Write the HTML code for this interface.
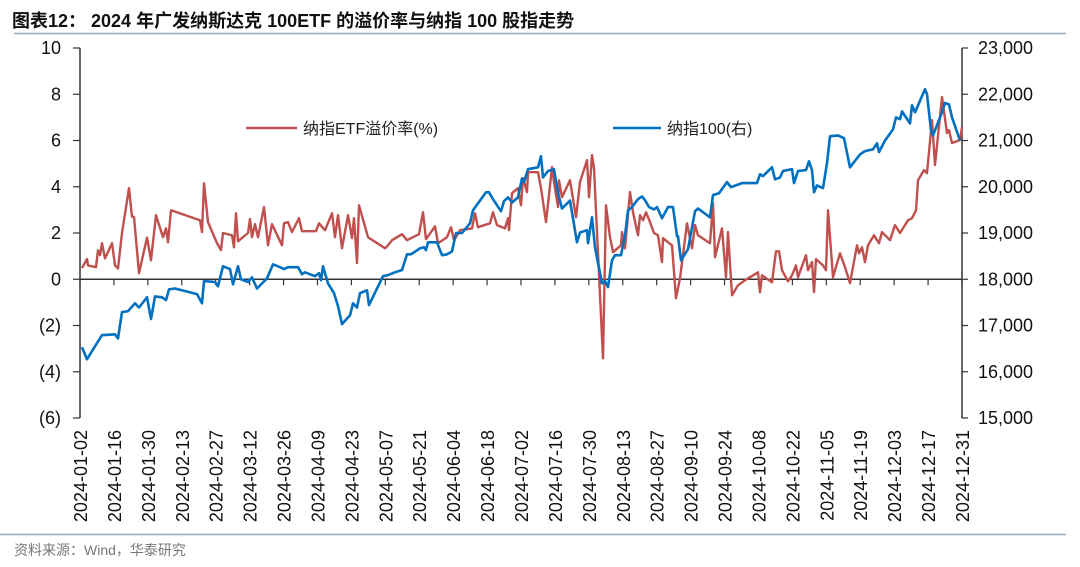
<!DOCTYPE html>
<html><head><meta charset="utf-8">
<style>
body{margin:0;background:#fff;}
svg{display:block;font-family:"Liberation Sans","Noto Sans CJK SC",sans-serif;}
</style></head>
<body>
<svg id="chart" width="1080" height="567" viewBox="0 0 1080 567">
<text x="12" y="27" font-size="18" font-weight="bold" fill="#111" font-family="'Liberation Sans','Noto Sans CJK SC',sans-serif">图表12：  2024 年广发纳斯达克 100ETF 的溢价率与纳指 100 股指走势</text>
<line x1="14" y1="33.5" x2="1066" y2="33.5" stroke="#8EA9C8" stroke-width="1.5"/>
<line x1="0" y1="534.5" x2="1066" y2="534.5" stroke="#8EA9C8" stroke-width="1.5"/>
<text x="14" y="555" font-size="14" fill="#777">资料来源：Wind，华泰研究</text>
<g id="axes"></g>
<g id="series"></g>
<g>
<line x1="246" y1="128" x2="297" y2="128" stroke="#C0504D" stroke-width="2.5"/>
<text x="303" y="134" font-size="16" fill="#222">纳指ETF溢价率(%)</text>
<line x1="613" y1="128" x2="661" y2="128" stroke="#0070C0" stroke-width="2.5"/>
<text x="667" y="134" font-size="16" fill="#222">纳指100(右)</text>
</g>
</svg>
<script>
const dateLabels=["2024-01-02","2024-01-16","2024-01-30","2024-02-13","2024-02-27","2024-03-12","2024-03-26","2024-04-09","2024-04-23","2024-05-07","2024-05-21","2024-06-04","2024-06-18","2024-07-02","2024-07-16","2024-07-30","2024-08-13","2024-08-27","2024-09-10","2024-09-24","2024-10-08","2024-10-22","2024-11-05","2024-11-19","2024-12-03","2024-12-17","2024-12-31"];
const leftTicks=[10,8,6,4,2,0,-2,-4,-6];
const leftTickLabels=["10","8","6","4","2","0","(2)","(4)","(6)"];
const rightTicks=[23000,22000,21000,20000,19000,18000,17000,16000,15000];
const rightTickLabels=["23,000","22,000","21,000","20,000","19,000","18,000","17,000","16,000","15,000"];
const premiumDay=[0,1.5,1.8,4.2,4.8,5.4,6,6.9,9,9.9,10.8,12,14.1,15,15.6,17.1,19.5,20.7,22.2,24.3,25.2,25.8,26.7,35.4,36,36.6,37.8,40.5,41.7,42.3,45,45.6,46.2,46.8,49.8,50.4,51,51.9,52.8,54.6,55.8,57,60,60.6,61.8,63,65.1,66,70.2,71.1,72.9,75,75.9,76.8,78,79.8,81,81.6,82.5,83.1,85.8,90.9,91.8,93,96,97.5,101.1,102.3,103.2,105.9,106.8,109.5,110.7,111.6,113.4,117,117.9,118.8,122.4,123.3,124.5,126.9,127.8,128.1,129,130.8,131.7,132.3,133.5,133.8,136.8,137.7,139.2,141,141.6,142.8,143.1,144,146.4,148.2,149.4,151.5,152.1,153,153.6,156.3,157.2,158.4,159.3,161.7,162,162.9,164.4,165.3,166.8,167.4,168.3,169.2,170.4,171.6,172.8,174,174.3,175.8,177,178.2,179.4,181.5,183,183.9,184.8,188.4,189.3,189.9,192,193.2,193.8,195,196.8,198.9,202.8,203.4,204,207,208.2,209.1,210,211.8,213,214.2,214.8,217.2,217.8,219,219.6,220.2,222.3,223.2,223.8,225.3,227.4,228.9,230.4,232.5,233.1,234,234.9,235.8,237.6,239.1,240,242.4,243.9,245.4,247.8,249,250.2,250.8,252.6,253.5,255,255.9,258,259.5,260.1,261,263.4,264];
const premiumVal=[0.48,0.87,0.6,0.52,1.25,1.04,1.56,0.9,1.56,0.6,0.47,2.0,3.94,2.7,2.7,0.26,1.8,0.82,2.77,1.82,2.2,1.6,2.98,2.55,2.04,4.15,2.47,1.56,1.26,2.0,1.9,1.38,2.85,1.64,2.0,2.6,1.82,2.38,1.82,3.12,1.47,2.38,1.47,2.42,2.47,2.04,2.64,2.08,2.08,2.42,2.12,2.85,1.82,2.77,1.34,2.77,1.78,2.64,0.7,3.2,1.82,1.34,1.47,1.69,1.95,1.69,1.95,2.9,1.73,2.29,1.56,1.82,2.25,1.69,2.12,2.2,2.85,2.25,2.42,2.9,2.34,2.2,2.64,2.12,3.72,3.94,3.2,4.37,3.77,4.63,4.63,3.94,2.47,4.85,4.2,3.12,4.28,3.55,4.28,2.68,4.2,5.15,3.55,5.37,4.8,-3.42,3.2,1.82,1.17,1.47,2.04,1.34,3.77,2.9,1.9,2.77,2.55,2.9,2.47,2.0,1.9,0.74,1.78,1.6,1.47,-0.82,0.04,2.42,1.34,2.34,1.9,1.56,3.29,0.95,2.2,0.09,2.04,-0.69,-0.26,-0.04,0.3,-0.56,0.17,-0.13,1.21,1.21,0.39,-0.09,0.17,0.6,0.09,1.04,0.39,0.74,-0.56,0.87,0.6,0.39,2.98,0.09,1.12,0.52,-0.17,1.47,1.12,1.38,0.74,1.47,1.9,1.56,2.04,1.69,2.34,2.0,2.55,2.64,2.98,4.28,4.72,4.59,6.88,4.94,7.88,6.32,6.45,5.89,6.02,6.58];
const ndxDay=[0,1.5,4.5,6,9.9,10.8,12,13.8,15.9,17.1,19.5,20.7,21.9,24,25.2,26.1,27.9,34.5,36,36.6,39.9,40.8,42.3,44.4,45.3,46.8,47.7,49.8,51,52.5,55.5,57.3,58.8,60.6,61.8,64.8,66,66.9,69.9,71.1,71.7,72.3,73.8,75.6,76.8,78,80.4,81.3,82.5,83.4,85.5,86.1,90.3,91.8,93.9,96,97.5,98.7,101.4,102.6,103.2,103.8,106.5,108,109.5,111,112.2,114,116.4,117.3,121.2,122.1,123.3,125.7,126.6,127.8,129,130.8,132,132.6,133.8,136.8,137.7,138.3,139.8,141.6,142.8,144,146.4,148.5,149.4,151.5,151.8,153,153.9,156,156.9,157.8,159,159.9,161.7,162.9,163.8,165,166.8,168,168.9,170.1,171.6,172.5,174,175.8,177.3,178.5,178.8,179.7,181.8,183.9,184.8,188.4,189.3,191.1,193.5,194.7,198,202.5,203.4,204.3,207,207.9,209.4,210.3,213,213.6,214.8,217.2,218.1,219,219.6,220.5,222.3,223.5,224.4,226.8,228.6,230.4,233.4,234.9,237.3,238.5,239.1,240.9,243.3,244.2,245.4,246,248.4,249,249.9,252.9,253.5,254.7,255.3,258,258.9,260.1,261,263.4];
const ndxVal=[16530,16270,16620,16790,16810,16720,17290,17310,17480,17390,17610,17140,17630,17610,17550,17780,17800,17680,17480,17960,17940,17850,18280,18220,17890,18280,18000,17940,18040,17800,18020,18320,18280,18220,18260,18260,18110,18150,18065,18130,17980,18280,17910,17700,17420,17030,17220,17480,17390,17700,17760,17440,18065,18090,18150,18200,18540,18540,18670,18690,18630,18800,18800,18520,18540,18600,19000,19000,19210,19490,19880,19880,19730,19470,19690,19770,19660,19770,20180,20100,20380,20420,20660,20200,20340,20380,19860,19530,19700,18800,19010,19060,18780,19340,18690,17910,17960,17830,18410,18520,18520,18950,19490,19560,19730,19790,19710,19560,19510,19560,19320,19560,19560,18930,18930,18410,18650,19470,19530,19340,19820,19860,20100,19990,20080,20080,20270,20230,20420,20160,20200,20340,20380,20080,20340,20360,20550,20360,19880,20030,19970,20510,21090,21110,21050,20420,20700,20770,20810,20940,20750,21000,21240,21500,21460,21630,21370,21760,21610,22110,22000,21220,21110,21610,21810,21780,21500,21000];

const NS="http://www.w3.org/2000/svg";
const PL=80, PR=962, PT=48, PB=418;
const xDay=d=>82+d*(880/264);
const xTick=i=>PL+i*((PR-PL)/(dateLabels.length-1));
const yL=v=>PT+(10-v)*(PB-PT)/16;
const yR=v=>PT+(23000-v)*(PB-PT)/8000;
function mk(tag,attrs,parent){const e=document.createElementNS(NS,tag);for(const k in attrs)e.setAttribute(k,attrs[k]);parent.appendChild(e);return e;}
const axes=document.getElementById('axes'), series=document.getElementById('series');
let e;
e=mk('line',{x1:PL,y1:PT,x2:PL,y2:PB,stroke:'#333','stroke-width':1.5},axes);


e=mk('line',{x1:PR,y1:PT,x2:PR,y2:PB,stroke:'#333','stroke-width':1.5},axes);


e=mk('line',{x1:PL,y1:yL(0),x2:PR,y2:yL(0),stroke:'#333','stroke-width':1.5},axes);


leftTicks.forEach((v,i)=>{
  const y=yL(v);
  let t=mk('line',{x1:PL-7,y1:y,x2:PL,y2:y,stroke:'#333','stroke-width':1.2},axes);
  
  
  let l=mk('text',{x:61,y:y+6,'font-size':18,'text-anchor':'end',fill:'#111'},axes);
  l.textContent=leftTickLabels[i];
  
  
});
rightTicks.forEach((v,i)=>{
  const y=yR(v);
  let t=mk('line',{x1:PR,y1:y,x2:PR+6,y2:y,stroke:'#333','stroke-width':1.2},axes);
  
  
  let l=mk('text',{x:978,y:y+6,'font-size':18,fill:'#111'},axes);
  l.textContent=rightTickLabels[i];
  
  
});
dateLabels.forEach((d,i)=>{
  const x=xTick(i);
  let t=mk('line',{x1:x,y1:yL(0),x2:x,y2:yL(0)+6,stroke:'#333','stroke-width':1.2},axes);
  
  
  let l=mk('text',{x:0,y:0,'font-size':18,'text-anchor':'end',fill:'#111',transform:`translate(${x+7},${PB+12}) rotate(-90)`},axes);
  l.textContent=d;
  
  
});
const ndxPts=ndxDay.map((d,i)=>xDay(d).toFixed(1)+','+yR(ndxVal[i]).toFixed(1)).join(' ');
const premPts=premiumDay.map((d,i)=>xDay(d).toFixed(1)+','+yL(premiumVal[i]).toFixed(1)).join(' ');
let pr=mk('polyline',{points:premPts,fill:'none',stroke:'#C0504D','stroke-width':2.4,'stroke-linejoin':'round'},series);


let nd=mk('polyline',{points:ndxPts,fill:'none',stroke:'#0070C0','stroke-width':2.6,'stroke-linejoin':'round'},series);


</script>
</body></html>
